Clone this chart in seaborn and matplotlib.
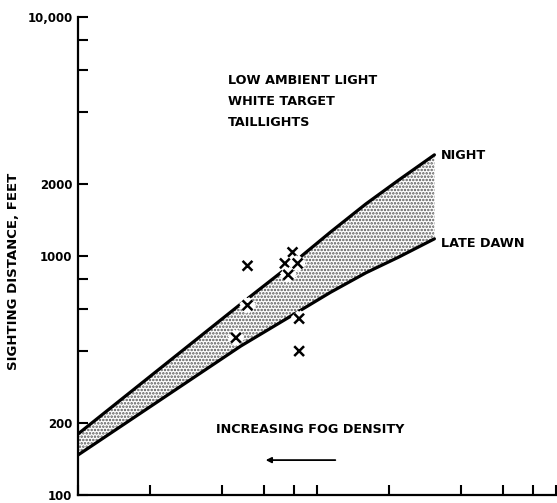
import numpy as np
import pandas as pd
import seaborn as sns
import matplotlib
matplotlib.use("Agg")
import matplotlib.pyplot as plt
from matplotlib.ticker import NullLocator
import matplotlib.patheffects as pe

# Values (log-log axes)
x_band = [0.05, 0.24, 0.4, 0.57, 0.8, 1.1, 1.55]
night = [180, 630, 940, 1260, 1650, 2080, 2650]
late_dawn = [147, 420, 570, 705, 850, 990, 1180]

obs_x = [0.256, 0.395, 0.367, 0.415, 0.379, 0.256, 0.229, 0.421, 0.421]
obs_y = [910, 1036, 931, 931, 834, 622, 455, 547, 400]

x_ticks = [0.05, 0.1, 0.2, 0.3, 0.4, 0.5, 1, 2, 3, 4, 5]
y_ticks = [100, 200, 400, 600, 800, 1000, 2000, 4000, 6000, 8000, 10000]
y_labels = ["100", "200", "", "", "", "1000", "2000", "", "", "", "10,000"]

sns.set_style("ticks")
plt.rcParams['font.family'] = ['DejaVu Sans']
plt.rcParams['font.weight'] = 'bold'
plt.rcParams['text.color'] = 'black'
plt.rcParams['axes.labelcolor'] = 'black'
plt.rcParams['xtick.color'] = 'black'
plt.rcParams['ytick.color'] = 'black'
plt.rcParams['hatch.linewidth'] = 1.2

fig = plt.figure(figsize=(5.57, 5.03), dpi=100)
ax = fig.add_axes([78 / 557, 8 / 503, 479 / 557, 478 / 503])

df = pd.DataFrame({'x': x_band, 'night': night, 'dawn': late_dawn})

# stippled band between the two curves
ax.fill_between(df['x'], df['dawn'], df['night'], facecolor='white',
                hatch='.....', edgecolor='#555555', linewidth=0)

sns.lineplot(data=df, x='x', y='night', ax=ax, color='black', lw=2.3)
sns.lineplot(data=df, x='x', y='dawn', ax=ax, color='black', lw=2.3)

sns.scatterplot(x=obs_x, y=obs_y, ax=ax, marker='x', s=50, color='black',
                linewidth=1.8, zorder=5)
# white halo around the crosses breaks the curves like the original
ax.collections[-1].set_path_effects(
    [pe.withStroke(linewidth=7, foreground='white')])

ax.set_xscale('log')
ax.set_yscale('log')
ax.set_xlim(0.05, 5.05)
ax.set_ylim(100, 10000)

ax.set_xticks(x_ticks)
ax.set_xticklabels([])
ax.xaxis.set_minor_locator(NullLocator())
ax.set_yticks(y_ticks)
ax.set_yticklabels(y_labels)
ax.yaxis.set_minor_locator(NullLocator())

ax.tick_params(axis='both', direction='in', length=7, width=1.5,
               color='black', labelcolor='black', labelsize=8.5, pad=4)
for lab in ax.get_yticklabels():
    lab.set_fontweight('bold')

for side in ['top', 'right']:
    ax.spines[side].set_visible(False)
for side in ['left', 'bottom']:
    ax.spines[side].set_linewidth(1.6)
    ax.spines[side].set_color('black')

ax.set_xlabel('')
ax.set_ylabel('SIGHTING DISTANCE, FEET', fontsize=9.5, fontweight='bold',
              color='black')
ax.yaxis.set_label_coords(-0.122, 0.468)

kw = dict(transform=ax.transAxes, fontsize=9.2, fontweight='bold',
          va='center', ha='left', color='black')
ax.text(0.313, 0.867, 'LOW AMBIENT LIGHT', **kw)
ax.text(0.313, 0.823, 'WHITE TARGET', **kw)
ax.text(0.313, 0.779, 'TAILLIGHTS', **kw)
ax.text(0.758, 0.711, 'NIGHT', **kw)
ax.text(0.758, 0.527, 'LATE DAWN', **kw)
ax.text(0.288, 0.137, 'INCREASING FOG DENSITY', **kw)

ax.annotate('', xy=(0.386, 0.073), xytext=(0.543, 0.073),
            xycoords='axes fraction',
            arrowprops=dict(arrowstyle='-|>', color='black', lw=1.3,
                            mutation_scale=8))

fig.savefig('out.png', dpi=100)
